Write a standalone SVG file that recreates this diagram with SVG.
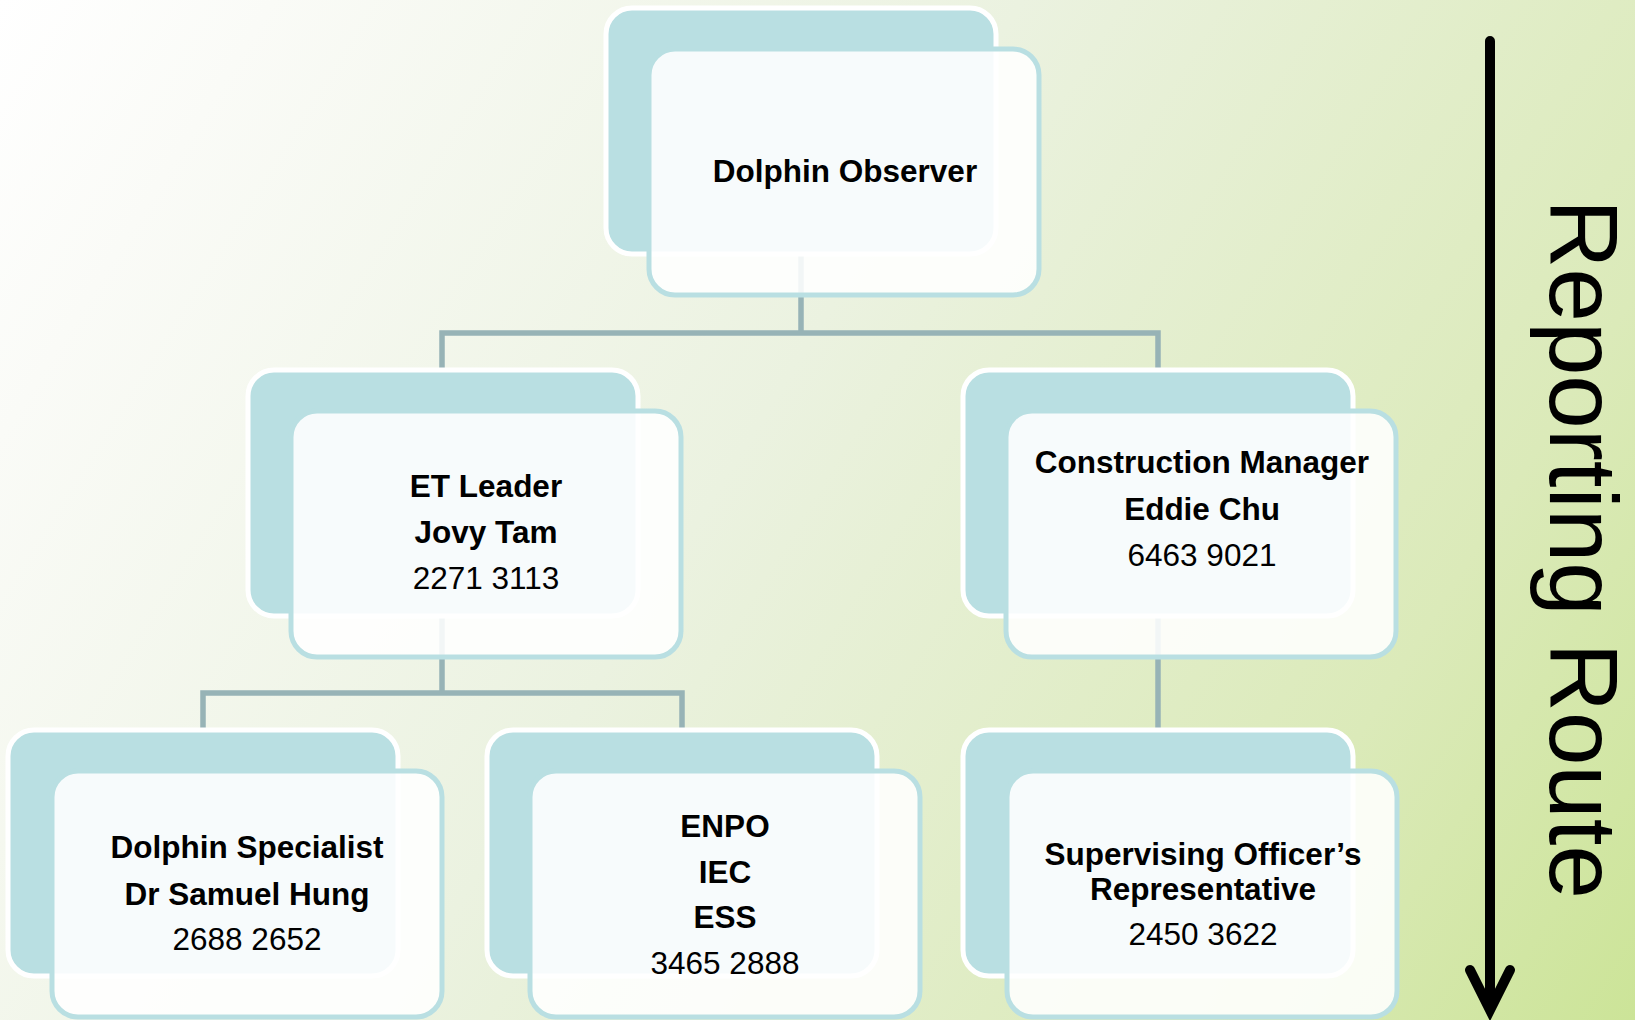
<svg xmlns="http://www.w3.org/2000/svg" width="1635" height="1020" viewBox="0 0 1635 1020">
<style>
.back{fill:#b9dfe2;stroke:#ffffff;stroke-width:5}
.front{fill:#ffffff;fill-opacity:0.88;stroke:#b9dfe2;stroke-width:5}
.t{font-family:"Liberation Sans",Arial,sans-serif;font-size:31.5px;fill:#000;text-anchor:middle}
.b{font-weight:bold}
.conn{fill:none;stroke:#97b3b6;stroke-width:5.5}
</style>
<defs>
<linearGradient id="bg" x1="0" y1="0" x2="1635" y2="1020" gradientUnits="userSpaceOnUse">
<stop offset="0" stop-color="#ffffff"/>
<stop offset="0.12" stop-color="#fafbf7"/>
<stop offset="0.45" stop-color="#ebf2e0"/>
<stop offset="0.8" stop-color="#dbeab9"/>
<stop offset="1" stop-color="#cce498"/>
</linearGradient>
</defs>
<rect x="0" y="0" width="1635" height="1020" fill="url(#bg)"/>
<g id="connectors">
<path class="conn" d="M801,240 V333 M442,380 V333 H1158 V380"/>
<path class="conn" d="M442,600 V693 M203,740 V693 H682 V740"/>
<path class="conn" d="M1158,600 V740"/>
</g>
<g id="node-dolphin-observer">
<rect class="back" x="606" y="8" width="390" height="246" rx="26"/>
<rect class="front" x="649" y="49" width="390" height="246" rx="26"/>
<text class="t b" x="845" y="182">Dolphin Observer</text>
</g>
<g id="node-et-leader">
<rect class="back" x="248" y="370" width="390" height="246" rx="26"/>
<rect class="front" x="291" y="411" width="390" height="246" rx="26"/>
<text class="t b" x="486" y="497">ET Leader</text>
<text class="t b" x="486" y="543">Jovy Tam</text>
<text class="t" x="486" y="589">2271 3113</text>
</g>
<g id="node-construction-manager">
<rect class="back" x="963" y="370" width="390" height="246" rx="26"/>
<rect class="front" x="1006" y="411" width="390" height="246" rx="26"/>
<text class="t b" x="1202" y="473">Construction Manager</text>
<text class="t b" x="1202" y="520">Eddie Chu</text>
<text class="t" x="1202" y="566">6463 9021</text>
</g>
<g id="node-dolphin-specialist">
<rect class="back" x="8" y="730" width="390" height="246" rx="26"/>
<rect class="front" x="52" y="771" width="390" height="246" rx="26"/>
<text class="t b" x="247" y="858">Dolphin Specialist</text>
<text class="t b" x="247" y="905">Dr Samuel Hung</text>
<text class="t" x="247" y="950">2688 2652</text>
</g>
<g id="node-enpo">
<rect class="back" x="487" y="730" width="390" height="246" rx="26"/>
<rect class="front" x="530" y="771" width="390" height="246" rx="26"/>
<text class="t b" x="725" y="837">ENPO</text>
<text class="t b" x="725" y="883">IEC</text>
<text class="t b" x="725" y="928">ESS</text>
<text class="t" x="725" y="974">3465 2888</text>
</g>
<g id="node-sor">
<rect class="back" x="963" y="730" width="390" height="246" rx="26"/>
<rect class="front" x="1007" y="771" width="390" height="246" rx="26"/>
<text class="t b" x="1203" y="865">Supervising Officer’s</text>
<text class="t b" x="1203" y="900">Representative</text>
<text class="t" x="1203" y="945">2450 3622</text>
</g>
<g id="reporting-route">
<path d="M1490,41 V1008 M1470,970 L1490,1010 L1510,970" fill="none" stroke="#000" stroke-width="10" stroke-linecap="round" stroke-linejoin="miter"/>
<text transform="translate(1550,199) rotate(90)" font-family="Liberation Sans,Arial,sans-serif" font-size="96" textLength="700" lengthAdjust="spacingAndGlyphs" fill="#000">Reporting Route</text>
</g>
</svg>
